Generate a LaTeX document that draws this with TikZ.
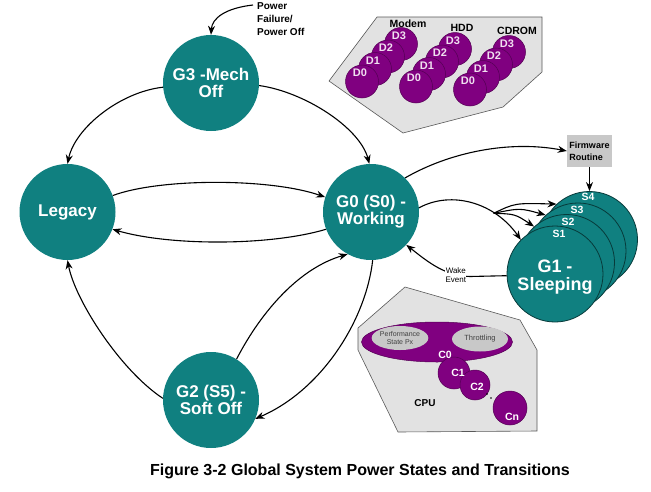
\documentclass[tikz,border=0pt]{standalone}
\usepackage{fontspec}
\setmainfont{Liberation Sans}
\usetikzlibrary{arrows.meta,shapes.geometric}
\definecolor{tealc}{RGB}{16,128,128}
\definecolor{purp}{RGB}{128,0,128}
\definecolor{panelgray}{RGB}{226,226,226}
\definecolor{fwgray}{RGB}{200,200,200}
\definecolor{innergray}{RGB}{200,200,200}
\newcommand{\myfs}[2]{\fontsize{#1}{#2}\selectfont}
\begin{document}
\begin{tikzpicture}[x=1pt,y=-1pt,
  state/.style={circle, fill=tealc, minimum size=96pt, inner sep=0pt, text=white,
    font=\bfseries\myfs{17}{17}, align=center},
  sleepc/.style={circle, fill=tealc, draw=black!55!tealc, line width=0.8pt, minimum size=96pt, inner sep=0pt},
  slabel/.style={text=white, font=\bfseries\myfs{10.5}{10.5}, inner sep=0pt},
  dev/.style={circle, fill=purp, draw=black!35!purp, line width=0.5pt, minimum size=33pt, inner sep=0pt},
  dlabel/.style={text=white!88!purp, font=\bfseries\myfs{11}{11}, inner sep=0pt},
  glabel/.style={text=black, font=\bfseries\myfs{10.5}{10.5}, inner sep=0pt},
  cpuc/.style={circle, fill=purp, draw=black!35!purp, line width=0.5pt, inner sep=0pt},
  conn/.style={line width=1.1pt, -{Stealth[length=9pt,width=7pt]}},
  panel/.style={fill=panelgray, draw=black!65, line width=0.6pt},
]
\useasboundingbox (0,0) rectangle (651,491);
\fill[white] (0,0) rectangle (651,491);

% ---------- device panel ----------
\draw[panel] (377,17) -- (542,17) -- (542,72) -- (503,107) -- (403,133) -- (329,81) -- cycle;
\foreach \gx/\gy/\gn in {360/73/m, 414/78/h, 468/81/c}{
  \foreach \k in {3,2,1,0}{
    \node[dev] (\gn d\k) at ({\gx+13*\k+2},{\gy-12.5*\k+8.5}) {};
    \node[dlabel] (\gn l\k) at ({\gx+13*\k},{\gy-12.5*\k}) {D\k};
  }
}
\node[glabel] (modem) at (408,24) {Modem};
\node[glabel] (hdd) at (462,28) {HDD};
\node[glabel] (cdrom) at (517,31) {CDROM};

% ---------- CPU panel ----------
\draw[panel] (405,287) -- (520,320) -- (537,350) -- (537,431) -- (398,432) -- (358,350) -- (358,328) -- cycle;
\node[ellipse, fill=purp, draw=black!35!purp, line width=0.5pt, minimum width=151pt, minimum height=40pt, inner sep=0pt] (c0) at (437,342) {};
\node[ellipse, fill=innergray, minimum width=50pt, minimum height=24pt, inner sep=0pt, align=center,
  text=black!75, font=\myfs{7}{7.5}] (perf) at (400,338) {Performance\\State Px};
\node[ellipse, fill=innergray, minimum width=56pt, minimum height=25pt, inner sep=0pt,
  text=black!75, font=\myfs{7.5}{7.5}] (thr) at (480,339) {Throttling};
\node[cpuc, minimum size=32pt] (c1) at (454,373) {};
\node[cpuc, minimum size=30pt] (c2) at (475,385) {};
\node[cpuc, minimum size=34pt] (cn) at (510,408) {};
\node[slabel] (c0l) at (445,355) {C0};
\node[slabel] (c1l) at (458,373) {C1};
\node[slabel] (c2l) at (477,387) {C2};
\node[slabel] (cnl) at (512,417) {Cn};
\fill (487,394) circle (0.9pt) (491,398) circle (0.9pt);
\node[text=black, font=\bfseries\myfs{10}{10}, inner sep=0pt] (cpu) at (425,403) {CPU};

% ---------- main states ----------
\node[state] (g3) at (211,83) {G3 -Mech\\Off};
\node[state] (leg) at (67.5,212) {Legacy};
\node[state] (g0) at (371,212) {G0 (S0) -\\Working};
\node[state] (g2) at (211,400) {G2 (S5) -\\Soft Off};

% ---------- sleeping stack ----------
\node[sleepc] (s4) at (589.5,239.5) {};
\node[sleepc] (s3) at (578,251) {};
\node[sleepc] (s2) at (566.5,262.5) {};
\node[sleepc] (s1) at (555,274) {};
\node[text=white, font=\bfseries\myfs{18}{18}, align=center, inner sep=0pt] (g1t) at (555,277) {G1 -\\Sleeping};
\node[slabel] (s4l) at (588,197) {S4};
\node[slabel] (s3l) at (577,210) {S3};
\node[slabel] (s2l) at (568,222) {S2};
\node[slabel] (s1l) at (559,234) {S1};

% firmware box
\node[rectangle, fill=fwgray, minimum width=45pt, minimum height=32pt, inner sep=1pt,
  align=left, font=\bfseries\myfs{9}{12}] (fw) at (589.5,151) {Firmware\\Routine};

% ---------- text labels ----------
\node[anchor=west, align=left, font=\bfseries\myfs{10}{13}, inner sep=0pt] (pftxt) at (257,19.4) {Power\\Failure/\\Power Off};
\coordinate (pfstart) at (253,5);
\node[font=\bfseries\myfs{16}{16}, inner sep=0pt] (cap) at (360,471) {Figure 3-2 Global System Power States and Transitions};

% ---------- connectors ----------
\draw[conn] (pfstart) .. controls (226,8) and (212,18) .. (g3.north);
\draw[conn] (g3.185) .. controls (120,92) and (75,128) .. (leg.north);
\draw[conn] (g3.-3) .. controls (305,92) and (360,128) .. (g0.92);
\draw[conn] (leg.20) .. controls (160,178) and (270,178) .. (g0.162);
\draw[conn] (g0.201) .. controls (270,246) and (170,246) .. (leg.-21);
\draw[conn] (g2.178) .. controls (120,370) and (75,300) .. (leg.south);
\draw[conn] (g2.58) .. controls (262,310) and (300,268) .. (g0.241);
\draw[conn] (g0.-88) .. controls (366,320) and (322,390) .. (g2.-23);
\draw[conn] (g0.45) .. controls (450,152) and (510,140) .. (fw.west);
\draw[conn] (fw.south) -- (s4.north);
\draw[conn] (g0.5) .. controls (452,190) and (495,203) .. coordinate[pos=0.7] (br) (s1.135);
\draw[conn] (br) .. controls (515,203) .. (s4.133);
\draw[conn] (br) .. controls (520,208) .. (s3.132);
\draw[conn] (br) .. controls (515,214) .. (s2.132);
\draw[conn] (s1.182) -- (470,276.5) .. controls (445,276) and (428,262) .. node[pos=0.2, fill=white, inner sep=0.3pt, align=center, font=\myfs{8}{9}] (wake) {Wake\\Event} (g0.-43);
\end{tikzpicture}
\end{document}
